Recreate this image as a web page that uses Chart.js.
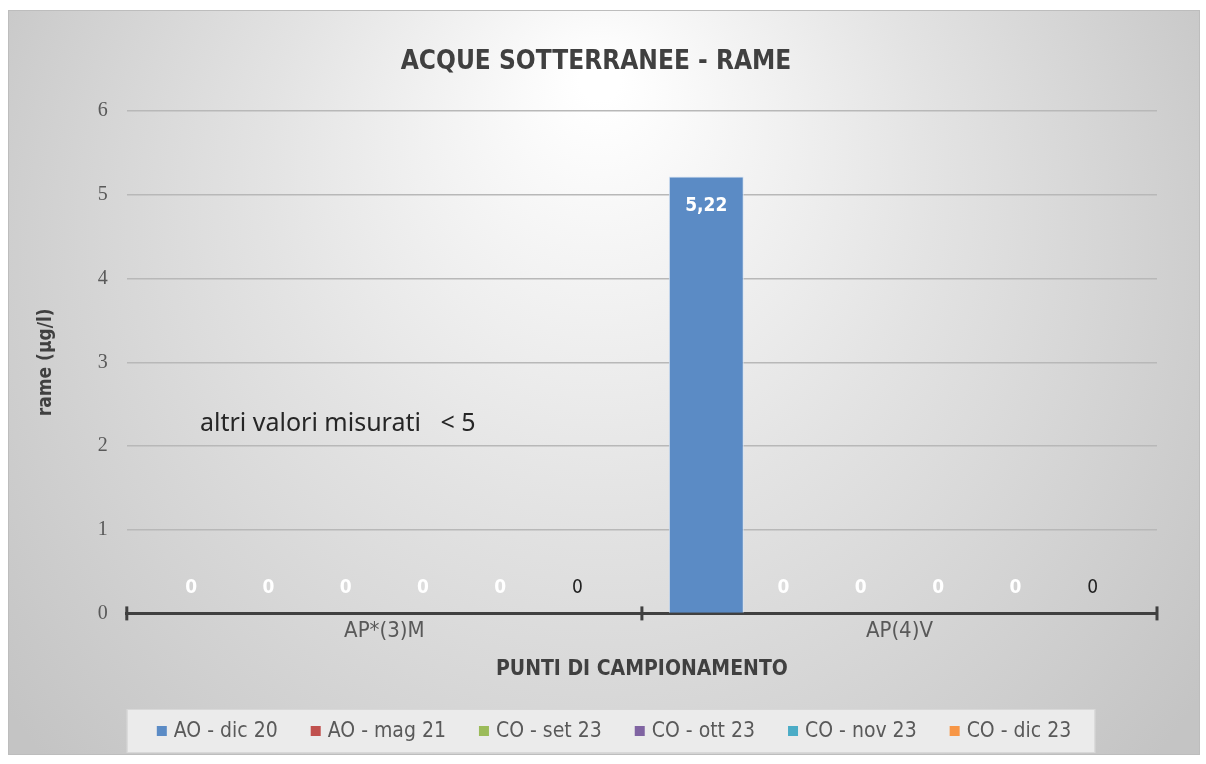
<!DOCTYPE html>
<html>
<head>
<meta charset="utf-8">
<script src="https://cdn.jsdelivr.net/npm/chart.js@4/dist/chart.umd.min.js"></script>
<style>
  html, body { margin: 0; padding: 0; background: #fff; }
  #wrap { width: 1206px; height: 764px; }
</style>
</head>
<body>
<div id="wrap"><canvas id="chart"></canvas></div>
<script>
// data
const categories = ["AP*(3)M", "AP(4)V"];
const seriesNames = ["AO - dic 20", "AO - mag 21", "CO - set 23", "CO - ott 23", "CO - nov 23", "CO - dic 23"];
const aoDic20 = [0, 5.22];
const aoMag21 = [0, 0];
const coSet23 = [0, 0];
const coOtt23 = [0, 0];
const coNov23 = [0, 0];
const coDic23 = [0, 0];
const yTicks = [0, 1, 2, 3, 4, 5, 6];

const colors = ['#5b8bc5', '#c0504d', '#9bbb59', '#8064a2', '#4bacc6', '#f79646'];
const labelColors = ['#ffffff', '#ffffff', '#ffffff', '#ffffff', '#ffffff', '#222222'];

const narrow = '"Liberation Sans Narrow", "DejaVu Sans Condensed", sans-serif';
const serif = '"Liberation Serif", "DejaVu Serif", serif';

const allSeries = [aoDic20, aoMag21, coSet23, coOtt23, coNov23, coDic23];

// background frame with grey gradient
const bgPlugin = {
    id: 'bg',
    beforeDraw(chart) {
        const c = chart.ctx;
        c.save();
        c.fillStyle = '#ffffff';
        c.fillRect(0, 0, chart.width, chart.height);
        const g = c.createRadialGradient(600, 80, 20, 600, 300, 720);
        g.addColorStop(0, '#ffffff');
        g.addColorStop(0.45, '#e3e3e3');
        g.addColorStop(1, '#c4c4c4');
        c.fillStyle = g;
        c.fillRect(8, 10, 1192, 745);
        c.strokeStyle = '#bdbdbd';
        c.lineWidth = 1;
        c.strokeRect(8.5, 10.5, 1191, 744);
        c.restore();
    }
};

// legend drawn by hand so spacing can follow the original
const legendPlugin = {
    id: 'boxLegend',
    afterDraw(chart) {
        const c = chart.ctx;
        c.save();
        c.font = '21px ' + narrow;
        const box = 10, gapText = 7, gapItem = 33;
        const widths = seriesNames.map(s => c.measureText(s).width);
        const total = widths.reduce((a, w) => a + box + gapText + w, 0) + gapItem * (seriesNames.length - 1);
        const cx = 614, yc = 731;
        let x = cx - total / 2;
        const x0 = x - 30, x1 = x + total + 24;
        c.fillStyle = '#ebebeb';
        c.fillRect(x0, yc - 22, x1 - x0, 44);
        c.strokeStyle = '#d8d8d8';
        c.lineWidth = 1;
        c.strokeRect(x0 + 0.5, yc - 21.5, x1 - x0 - 1, 43);
        c.textBaseline = 'middle';
        c.textAlign = 'left';
        seriesNames.forEach((s, i) => {
            c.fillStyle = colors[i];
            c.fillRect(x, yc - box / 2, box, box);
            c.fillStyle = '#595959';
            c.fillText(s, x + box + gapText, yc + 1);
            x += box + gapText + widths[i] + gapItem;
        });
        c.restore();
    }
};

// value labels, axis tick marks and note text
const labelPlugin = {
    id: 'valueLabels',
    afterDatasetsDraw(chart) {
        const c = chart.ctx;
        c.save();
        c.textAlign = 'center';
        c.textBaseline = 'middle';
        chart.data.datasets.forEach((ds, i) => {
            const meta = chart.getDatasetMeta(i);
            meta.data.forEach((bar, j) => {
                const v = ds.data[j];
                const txt = String(v).replace('.', ',');
                let y;
                if (v > 0) {
                    y = bar.y + 30;
                    c.font = 'bold 19px ' + narrow;
                } else {
                    y = bar.base - 25;
                    c.font = (i === 5 ? '' : 'bold ') + '19px ' + narrow;
                }
                c.fillStyle = labelColors[i];
                c.fillText(txt, bar.x, y);
            });
        });
        // tick marks crossing the x axis at category borders
        const xs = chart.scales.x;
        const y0 = chart.scales.y.getPixelForValue(0);
        c.strokeStyle = '#404040';
        c.lineWidth = 3;
        const n = categories.length;
        for (let k = 0; k <= n; k++) {
            const px = xs.left + (xs.right - xs.left) * k / n;
            c.beginPath();
            c.moveTo(px, y0 - 7);
            c.lineTo(px, y0 + 7);
            c.stroke();
        }
        // note
        const ys = chart.scales.y;
        c.textAlign = 'left';
        c.font = '25px "Noto Sans", "Open Sans", sans-serif';
        c.fillStyle = '#262626';
        c.fillText('altri valori misurati   < 5', 200, ys.getPixelForValue(2.27));
        c.restore();
    }
};

new Chart(document.getElementById('chart'), {
    type: 'bar',
    data: {
        labels: categories,
        datasets: allSeries.map((d, i) => ({
            label: seriesNames[i],
            data: d,
            backgroundColor: colors[i],
            borderColor: i === 0 ? '#d7e4f3' : colors[i],
            borderWidth: i === 0 ? {left: 1, right: 1, top: 1, bottom: 0} : 0,
            categoryPercentage: 0.9,
            barPercentage: 0.97
        }))
    },
    options: {
        responsive: true,
        maintainAspectRatio: false,
        animation: false,
        layout: { padding: { left: 35, right: 49, top: 20, bottom: 82 } },
        plugins: {
            title: {
                display: true,
                text: 'ACQUE SOTTERRANEE - RAME',
                color: '#404040',
                font: { family: narrow, size: 26, weight: 'bold' },
                padding: { top: 27, bottom: 33 }
            },
            legend: { display: false },
            tooltip: { enabled: false }
        },
        scales: {
            x: {
                grid: {
                    display: false,
                    drawTicks: false,
                    tickLength: 0,
                    offset: true
                },
                border: { display: true, color: '#404040', width: 3 },
                ticks: {
                    color: '#595959',
                    font: { family: narrow, size: 22 },
                    padding: 5
                },
                title: {
                    display: true,
                    text: 'PUNTI DI CAMPIONAMENTO',
                    color: '#404040',
                    font: { family: narrow, size: 21, weight: 'bold' },
                    padding: { top: 7, bottom: 0 }
                }
            },
            y: {
                min: 0,
                max: 6,
                afterBuildTicks(axis) {
                    axis.ticks = yTicks.map(v => ({ value: v }));
                },
                grid: {
                    color: '#b8b8b8',
                    lineWidth: 1.5,
                    drawTicks: false
                },
                border: { display: false },
                ticks: {
                    color: '#595959',
                    font: { family: serif, size: 20 },
                    padding: 19
                },
                title: {
                    display: true,
                    text: 'rame (µg/l)',
                    color: '#404040',
                    font: { family: narrow, size: 19, weight: 'bold' },
                    padding: { top: 0, bottom: 21 }
                }
            }
        }
    },
    plugins: [bgPlugin, labelPlugin, legendPlugin]
});
</script>
</body>
</html>
